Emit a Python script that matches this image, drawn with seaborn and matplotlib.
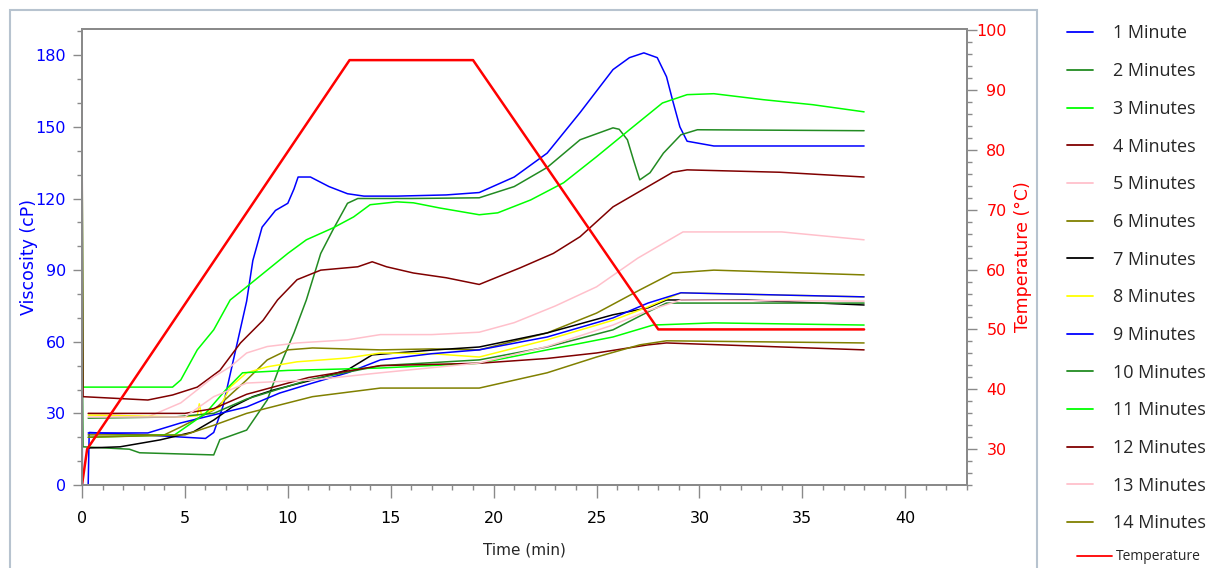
import matplotlib
matplotlib.use("Agg")
import matplotlib.pyplot as plt
from matplotlib.ticker import MultipleLocator
from matplotlib.lines import Line2D
from matplotlib.patches import Rectangle
import pandas as pd
import seaborn as sns

# viscosity curves (time in min, viscosity in cP)
t_1 = [0, 0.02, 0.3, 0.35, 3, 6, 6.4, 6.85, 8.0, 8.3, 8.75, 9.4, 10.0, 10.3, 10.5, 11.1, 12.0, 12.9, 13.7,
       15.3, 17.7, 19.3, 21.0, 22.6, 24.2, 25.8, 26.6, 27.3, 27.95, 28.4, 28.7, 29.05, 29.4, 30.7, 38]
v_1 = [60, 0, 0, 22, 21, 19.5, 22, 33, 77, 94, 108, 115, 118, 124, 129, 129, 125, 122, 121,
       121, 121.5, 122.5, 129, 139, 156, 174, 179, 181, 179, 171, 161, 150, 144, 142, 142]

t_2 = [0, 0.05, 2.3, 2.8, 6.4, 6.7, 8.0, 9.0, 9.6, 10.3, 10.9, 11.6, 12.2, 12.9, 13.4, 16, 19.3, 21.0,
       22.6, 24.2, 25.8, 26.1, 26.5, 26.8, 27.1, 27.6, 28.25, 29.1, 29.9, 38]
v_2 = [72, 16, 15, 13.5, 12.6, 19, 23, 35.6, 49.5, 63.7, 77.5, 97, 107, 118, 120, 120, 120.3, 125,
       133, 144.6, 149.6, 149, 144.6, 136, 127.8, 130.8, 139, 146.7, 148.8, 148.4]

t_3 = [0, 0.05, 4.4, 4.8, 5.6, 6.4, 7.2, 8.0, 9.0, 10.0, 10.9, 12.2, 13.2, 14.0, 15.3, 16.1, 17.4, 19.3,
       20.2, 21.8, 23.4, 25.0, 26.6, 28.2, 29.4, 30.7, 33.1, 35.5, 38]
v_3 = [148, 41, 41, 44, 56.6, 65, 77.5, 83, 90, 97, 102.7, 107.7, 112.3, 117.4, 118.6, 118.2, 116, 113.2,
       114, 119.4, 126.6, 137.5, 148.8, 160, 163.5, 163.9, 161.4, 159.3, 156.3]

t_4 = [0, 0.05, 3.2, 4.4, 5.6, 6.7, 7.7, 8.8, 9.5, 10.45, 11.6, 13.4, 14.1, 14.8, 16.1, 17.7, 19.3,
       21.3, 22.9, 24.2, 25.8, 27.5, 28.7, 29.4, 33.9, 38]
v_4 = [157, 37, 35.6, 37.7, 41, 48, 59.5, 69, 77.5, 86, 90, 91.4, 93.5, 91.4, 88.8, 86.8, 84,
       91, 97, 104, 116.5, 125, 131, 132, 131, 129]

t_5 = [0.3, 3.2, 4.8, 6.4, 7.2, 8.0, 9.0, 10.45, 12.9, 14.5, 17, 19.3, 21, 23, 25, 27, 29.2, 34, 38]
v_5 = [30, 28.5, 34.4, 45.3, 49.5, 55.3, 58, 59.5, 60.8, 63, 63, 64, 68, 75, 83, 95, 106, 106, 102.7]

t_6 = [0.3, 4, 4.8, 6.4, 8.0, 9.0, 10.0, 11.2, 14.5, 17, 19.3, 22.6, 25.0, 27.1, 28.7, 30.7, 38]
v_6 = [21, 21, 24.3, 31.4, 44, 52.4, 56.6, 57.4, 56.6, 57, 56.6, 63.7, 72, 81.7, 88.8, 90, 88]

t_7 = [0.3, 1.85, 3.8, 5.4, 6.4, 7.3, 8.3, 9.3, 11.2, 12.9, 14.1, 17, 19.3, 22.6, 25.8, 27.5, 28.4, 32.3, 38]
v_7 = [15.5, 16, 18.9, 22.2, 27.2, 32.7, 37, 39.8, 44, 48.2, 54.5, 56.5, 57.8, 63.7, 71.3, 74.2, 77.5, 77.5, 75.4]

t_8 = [0.3, 4.8, 5.6, 5.7, 5.8, 6.7, 7.2, 8.0, 9.0, 10.45, 12.9, 14.5, 17, 19.3, 22.6, 25.8, 27.5, 29.1, 38]
v_8 = [29.3, 28.5, 29, 34, 29.5, 32.7, 41, 47, 49.5, 51.6, 53.2, 55.3, 55, 53.6, 60.8, 69, 74.6, 80.5, 78.8]

t_9 = [0.3, 3.2, 4.8, 6.7, 8.0, 9.6, 11.2, 12.9, 14.5, 17, 19.3, 22.6, 25.8, 27.5, 29.1, 38]
v_9 = [21.8, 21.8, 26, 30, 32.7, 38.5, 42.7, 47, 52.4, 55, 56.6, 62, 70, 76.2, 80.5, 78.8]

t_10 = [0.3, 4.5, 6.4, 8.0, 11.0, 14.5, 19.3, 22.6, 25.8, 27.5, 28.4, 38]
v_10 = [28, 28.5, 30, 36, 44, 50, 52.4, 57.8, 65, 72.5, 76.2, 76.2]

t_11 = [0.3, 4.5, 6.0, 7.0, 7.8, 10, 14.5, 19.3, 22.6, 25.8, 27.75, 30.7, 38]
v_11 = [20, 21, 30, 40, 47, 48, 49, 51, 56.6, 62, 67, 67.9, 67]

t_12 = [0.3, 5.0, 6.4, 8.0, 11.0, 14.5, 19.3, 22.6, 25.0, 27.5, 28.4, 38]
v_12 = [30, 30, 32, 38, 45, 50, 51, 53, 55.3, 58.7, 59.5, 56.6]

t_13 = [0.3, 5.0, 6.4, 8.0, 11.2, 14.5, 19.3, 22.6, 25.8, 27.5, 29.1, 38]
v_13 = [28.5, 28.5, 37, 42.7, 44, 47, 51.1, 58, 67, 73, 77.5, 77]

t_14 = [0.3, 5.0, 6.4, 8.0, 11.2, 14.5, 19.3, 22.6, 25.0, 27.1, 28.4, 38]
v_14 = [20, 21, 25, 30, 37, 40.6, 40.6, 47, 53.6, 58.7, 60.4, 59.5]

# temperature profile (°C)
t_temp = [0, 0.25, 13, 19, 28, 38]
temp = [24, 30, 95, 95, 50, 50]

labels = ["1 Minute", "2 Minutes", "3 Minutes", "4 Minutes", "5 Minutes", "6 Minutes", "7 Minutes",
          "8 Minutes", "9 Minutes", "10 Minutes", "11 Minutes", "12 Minutes", "13 Minutes", "14 Minutes"]
colors = ["#0000FF", "#228B22", "#00FF00", "#800000", "#FFC0CB", "#808000", "#000000",
          "#FFFF00", "#0000FF", "#228B22", "#00FF00", "#800000", "#FFC0CB", "#808000"]
times = [t_1, t_2, t_3, t_4, t_5, t_6, t_7, t_8, t_9, t_10, t_11, t_12, t_13, t_14]
viscs = [v_1, v_2, v_3, v_4, v_5, v_6, v_7, v_8, v_9, v_10, v_11, v_12, v_13, v_14]

df = pd.concat([pd.DataFrame({"time": t, "visc": v, "run": lab})
                for t, v, lab in zip(times, viscs, labels)], ignore_index=True)
palette = dict(zip(labels, colors))

sns.set_style("ticks")
plt.rcParams["font.family"] = ["DejaVu Sans"]
frame = "#8a8a8a"

fig = plt.figure(figsize=(12.28, 5.68), dpi=100)
ax = fig.add_axes([82 / 1228, 1 - 485 / 568, (967 - 82) / 1228, (485 - 29) / 568])

sns.lineplot(data=df, x="time", y="visc", hue="run", hue_order=labels, palette=palette,
             estimator=None, sort=False, legend=False, linewidth=1.1, ax=ax)

ax2 = ax.twinx()
sns.lineplot(x=t_temp, y=temp, color="red", linewidth=1.8, estimator=None, sort=False, ax=ax2)

# axes ranges and ticks
ax.set_xlim(0, 43)
ax.set_ylim(0, 191)
ax2.set_ylim(24, 100.2)
ax.xaxis.set_major_locator(MultipleLocator(5))
ax.xaxis.set_minor_locator(MultipleLocator(1))
ax.yaxis.set_major_locator(MultipleLocator(30))
ax.yaxis.set_minor_locator(MultipleLocator(10))
ax2.yaxis.set_major_locator(MultipleLocator(10))
ax2.yaxis.set_minor_locator(MultipleLocator(2))

for a in (ax, ax2):
    for s in a.spines.values():
        s.set_color(frame)
        s.set_linewidth(1.4)
        s.set_visible(True)

ax.tick_params(axis="x", which="major", length=9.5, width=1, color=frame, pad=9,
               labelsize=11.5, labelcolor="black")
ax.tick_params(axis="x", which="minor", length=3.6, width=1, color=frame)
ax.tick_params(axis="y", which="major", length=6.5, width=1, color=frame, pad=5,
               labelsize=11.5, labelcolor="blue")
ax.tick_params(axis="y", which="minor", length=3.5, width=1, color=frame)
ax2.tick_params(axis="y", which="major", length=7, width=1, color=frame, pad=21.5,
                labelsize=11.5, labelcolor="red")
ax2.tick_params(axis="y", which="minor", length=3.5, width=1, color=frame)
for lab in ax2.get_yticklabels():
    lab.set_horizontalalignment("right")

ax.set_xlabel("Time (min)", fontsize=11, labelpad=12)
ax.set_ylabel("Viscosity (cP)", fontsize=12.5, color="blue", labelpad=-2)
ax2.set_ylabel("Temperature (°C)", fontsize=12.5, color="red", labelpad=5)

# panel border around the chart
fig.patches.append(Rectangle((10 / 1228, -0.02), 1027 / 1228, 1.02 - 10 / 568,
                             transform=fig.transFigure, fill=False,
                             edgecolor="#b7c3cf", linewidth=1.5))

# legends
handles = [Line2D([0], [0], color=c, lw=1.3) for c in colors]
fig.legend(handles, labels, loc="upper left", bbox_to_anchor=(1067 / 1228, 1 - 24.5 / 568),
           frameon=False, prop={"family": "Open Sans", "size": 13},
           handlelength=1.45, handletextpad=1.1, labelspacing=1.09, borderpad=0, borderaxespad=0)
fig.legend([Line2D([0], [0], color="red", lw=1.3)], ["Temperature"], loc="center left",
           bbox_to_anchor=(1077 / 1228, 1 - 557 / 568), frameon=False,
           prop={"family": "Open Sans", "size": 10},
           handlelength=2.5, handletextpad=0.3, borderpad=0, borderaxespad=0)

fig.savefig("out.png", dpi=100)
